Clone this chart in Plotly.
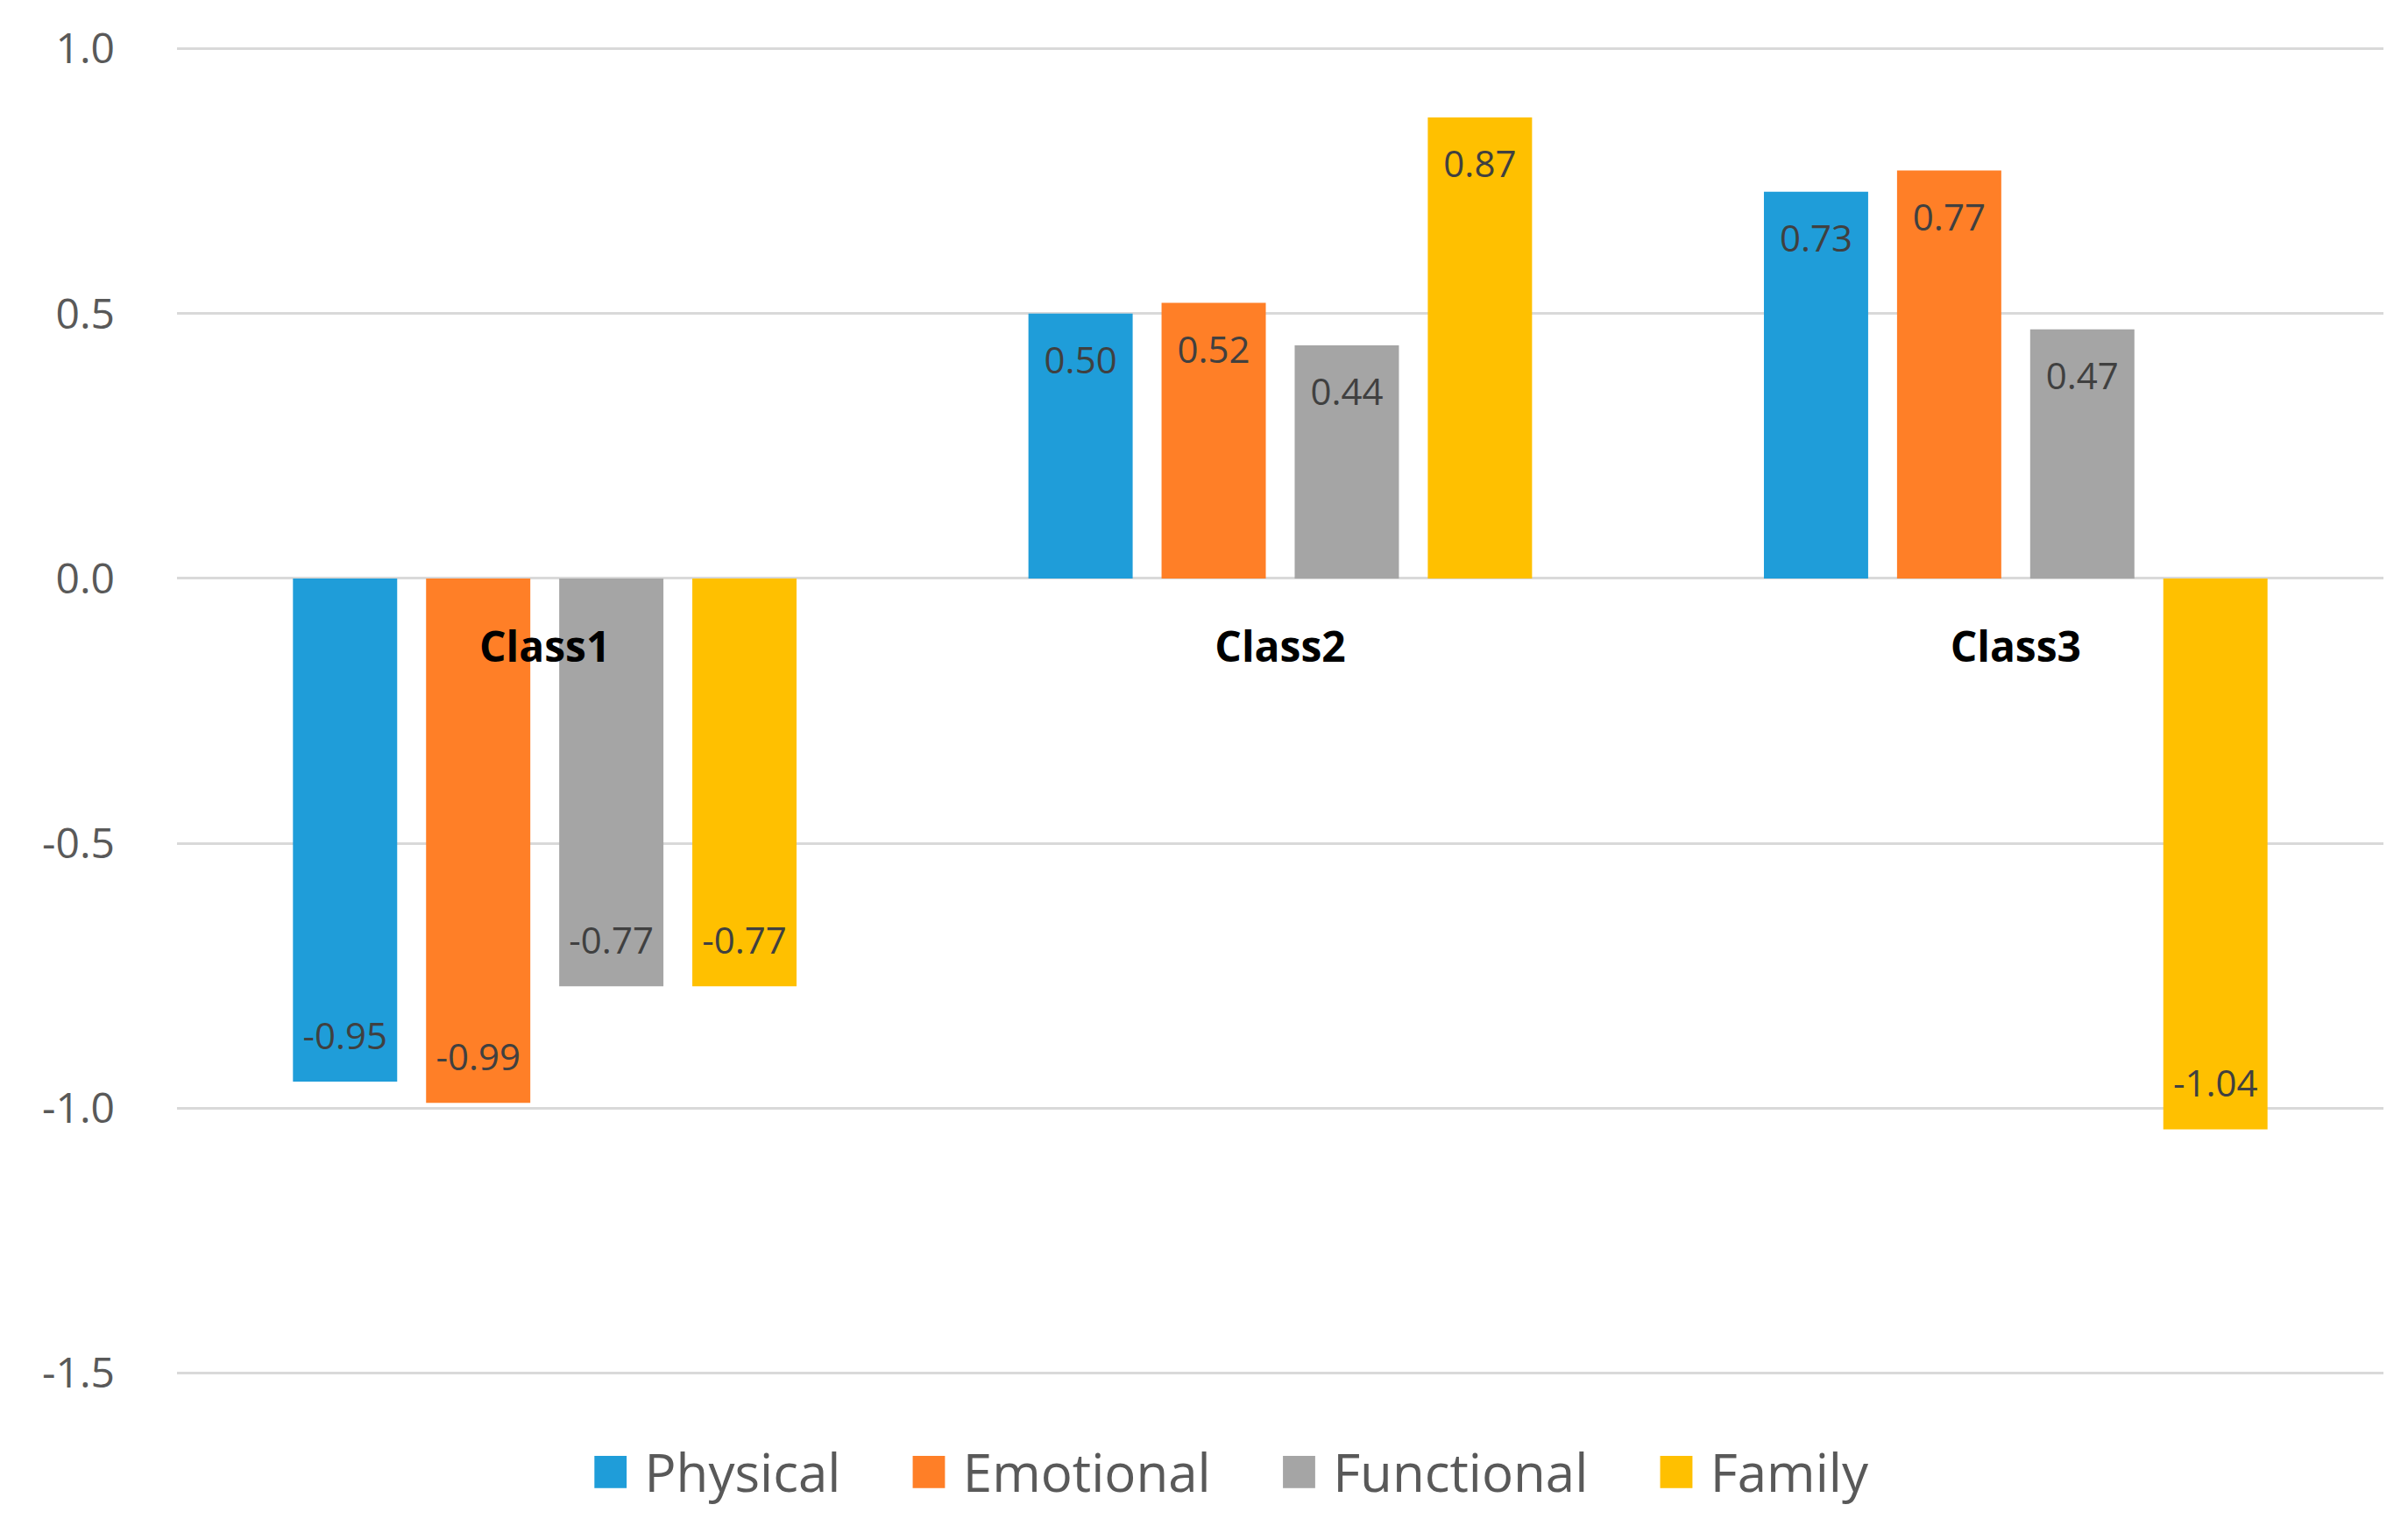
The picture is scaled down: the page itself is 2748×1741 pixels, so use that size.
import plotly.graph_objects as go

categories = ["Class1", "Class2", "Class3"]
series_names = ["Physical", "Emotional", "Functional", "Family"]
physical = [-0.95, 0.50, 0.73]
emotional = [-0.99, 0.52, 0.77]
functional = [-0.77, 0.44, 0.47]
family = [-0.77, 0.87, -1.04]
series_values = [physical, emotional, functional, family]
colors = ["#1F9DD9", "#FF7F27", "#A5A5A5", "#FFC000"]

y_tickvals = [-1.5, -1.0, -0.5, 0.0, 0.5, 1.0]
y_ticktext = ["-1.5", "-1.0", "-0.5", "0.0", "0.5", "1.0"]

FONT = "Open Sans"
BODY = 8  # default browser body margin
W, H = 2748 - 2 * BODY, 1741 - 2 * BODY
M_L, M_R, M_T, M_B = 202 - BODY, 2748 - 2720 - BODY, 54 - BODY, 1741 - 1568 - BODY
GAP = 0.276
Y_RANGE = [-1.5025, 1.0025]

fig = go.Figure()
for name, vals, col in zip(series_names, series_values, colors):
    fig.add_trace(go.Bar(
        x=categories, y=vals, name=name, offsetgroup=name,
        marker=dict(color=col, line=dict(width=0)),
        showlegend=False, hoverinfo="skip",
    ))

# data labels, grouped with the bars (inside end, as in the source chart)
for name, vals in zip(series_names, series_values):
    fig.add_trace(go.Scatter(
        x=categories, y=vals, offsetgroup=name, mode="markers+text",
        text=[f"{v:.2f}" for v in vals],
        textposition=["bottom center" if v >= 0 else "top center" for v in vals],
        marker=dict(size=[57 if v >= 0 else 41 for v in vals], opacity=0),
        textfont=dict(family=FONT, size=42, color="#404040"),
        showlegend=False, hoverinfo="skip", cliponaxis=False,
    ))

legend_html = "\u00a0\u00a0\u00a0\u00a0\u00a0".join(
    f'<span style="color:{c};font-size:76px">\u25A0</span>\u00a0{n}'
    for n, c in zip(series_names, colors)
)

zero_pos = (0 - Y_RANGE[0]) / (Y_RANGE[1] - Y_RANGE[0])

fig.update_layout(
    width=W, height=H,
    margin=dict(l=M_L, r=M_R, t=M_T, b=M_B),
    paper_bgcolor="white", plot_bgcolor="white",
    barmode="group", bargap=GAP, bargroupgap=0.217,
    scattermode="group", scattergap=GAP,
    font=dict(family=FONT, color="#595959"),
    xaxis=dict(
        type="category", categoryorder="array", categoryarray=categories,
        anchor="free", position=zero_pos,
        showgrid=False, showline=False, zeroline=False, ticks="",
        tickfont=dict(family=FONT, size=48, color="#000000", weight="bold"),
        ticklabelstandoff=46,
    ),
    yaxis=dict(
        range=Y_RANGE, tickvals=y_tickvals, ticktext=y_ticktext,
        showgrid=True, gridcolor="#D9D9D9", gridwidth=3,
        zeroline=False, showline=False, ticks="",
        tickfont=dict(family=FONT, size=48, color="#595959"),
        ticklabelstandoff=70,
    ),
    annotations=[dict(
        xref="paper", yref="paper", x=0.477, y=-0.069,
        xanchor="center", yanchor="middle", showarrow=False,
        text=legend_html,
        font=dict(family=FONT, size=60, color="#595959"),
    )],
)

fig.write_html("out.html")
